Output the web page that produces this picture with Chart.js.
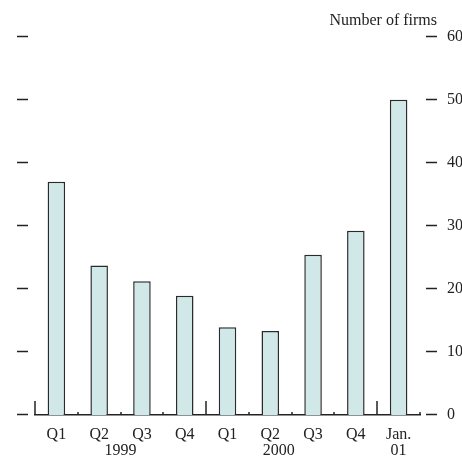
<!DOCTYPE html>
<html>
<head>
<meta charset="utf-8">
<script src="https://cdn.jsdelivr.net/npm/chart.js@4"></script>
<style>
  html, body { margin: 0; padding: 0; background: #fff; }
  #wrap { width: 462px; height: 457px; }
</style>
</head>
<body>
<div id="wrap"><canvas id="firms-chart"></canvas></div>
<script>
const quarters = ["Q1", "Q2", "Q3", "Q4", "Q1", "Q2", "Q3", "Q4", "Jan."];
const firms = [37, 23.7, 21.2, 18.9, 13.9, 13.3, 25.4, 29.2, 50];
const yearLabels = ["1999", "2000", "01"];
const yearPositions = [1.5, 5.2, 8];
const yTicks = [0, 10, 20, 30, 40, 50, 60];
const yearBreaks = [0, 4, 8];
const unitLabel = "Number of firms";

const fontFamily = "'Liberation Serif', 'DejaVu Serif', serif";
const inkColor = "#222";

// dashes beside the value ticks, category ticks, year row and unit label
const decorations = {
  id: "decorations",
  afterDraw(chart) {
    const ctx = chart.ctx;
    const x = chart.scales.x;
    const y = chart.scales.y;
    const area = chart.chartArea;
    ctx.save();
    ctx.strokeStyle = inkColor;
    ctx.lineWidth = 1.5;

    yTicks.forEach((v) => {
      const py = Math.round(y.getPixelForValue(v)) - 0.5;
      ctx.beginPath();
      ctx.moveTo(17, py);
      ctx.lineTo(28, py);
      ctx.moveTo(426, py);
      ctx.lineTo(437, py);
      ctx.stroke();
    });

    for (let i = 0; i <= quarters.length; i++) {
      const px = Math.round(x.getPixelForValue(i - 0.5));
      const len = yearBreaks.includes(i) ? 14 : 3;
      ctx.beginPath();
      ctx.moveTo(px, area.bottom);
      ctx.lineTo(px, area.bottom - len);
      ctx.stroke();
    }

    ctx.fillStyle = inkColor;
    ctx.font = "16px " + fontFamily;
    ctx.textAlign = "center";
    ctx.textBaseline = "top";
    yearLabels.forEach((label, i) => {
      ctx.fillText(label, x.getPixelForValue(yearPositions[i]), 443);
    });

    ctx.textAlign = "right";
    ctx.textBaseline = "alphabetic";
    ctx.fillText(unitLabel, 437, 25);
    ctx.restore();
  },
};

const ctx = document.getElementById("firms-chart").getContext("2d");
new Chart(ctx, {
  type: "bar",
  data: {
    labels: quarters,
    datasets: [
      {
        label: unitLabel,
        data: firms,
        backgroundColor: "#d1e8e9",
        borderColor: "#2a2a2a",
        borderWidth: 1.5,
        barPercentage: 0.41,
        categoryPercentage: 1,
      },
    ],
  },
  options: {
    responsive: true,
    maintainAspectRatio: false,
    animation: false,
    layout: {
      padding: { top: 33, left: 35, right: 0, bottom: 0 },
    },
    scales: {
      x: {
        grid: { display: false, drawTicks: false },
        border: { display: true, color: inkColor, width: 1.5 },
        ticks: {
          color: inkColor,
          padding: 10,
          font: { family: fontFamily, size: 16 },
          maxRotation: 0,
          autoSkip: false,
        },
        afterFit(scale) {
          scale.height = 42;
        },
      },
      y: {
        position: "right",
        min: 0,
        max: 60,
        grid: { display: false, drawTicks: false },
        border: { display: false },
        ticks: {
          stepSize: 10,
          color: inkColor,
          padding: 27,
          font: { family: fontFamily, size: 16 },
        },
        afterFit(scale) {
          scale.width = 42;
        },
      },
    },
    plugins: {
      legend: { display: false },
      tooltip: { enabled: false },
    },
  },
  plugins: [decorations],
});
</script>
</body>
</html>
